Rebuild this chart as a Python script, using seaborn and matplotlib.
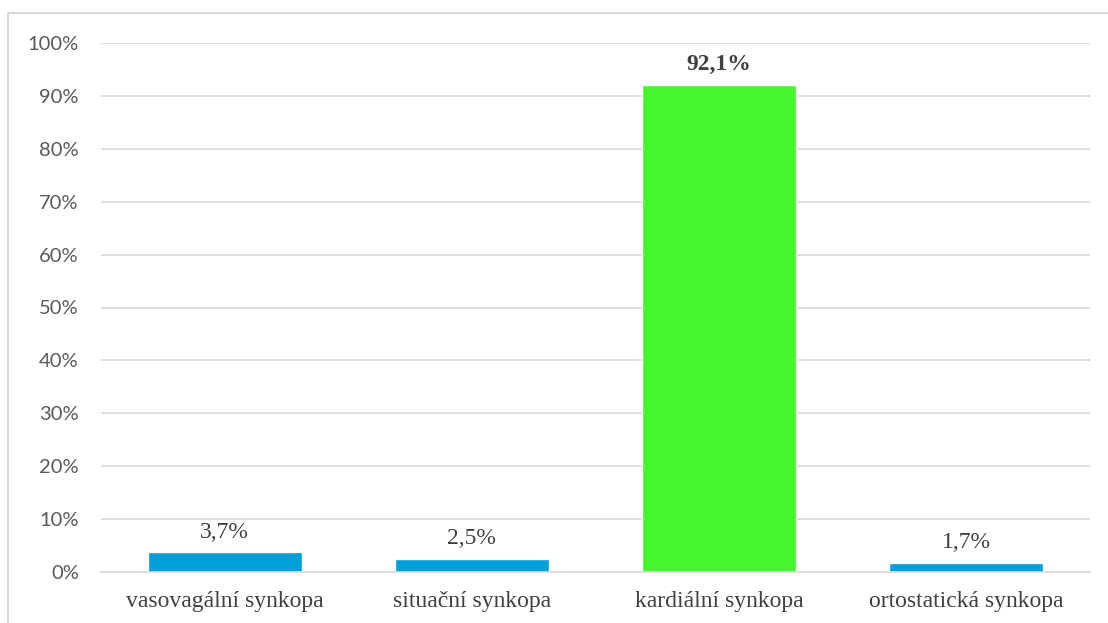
import matplotlib
matplotlib.use("Agg")
import matplotlib.pyplot as plt
import seaborn as sns
import pandas as pd
from matplotlib.patches import Rectangle

categories = ["vasovagální synkopa", "situační synkopa", "kardiální synkopa", "ortostatická synkopa"]
values = [3.7, 2.5, 92.1, 1.7]
labels = ["3,7%", "2,5%", "92,1%", "1,7%"]
colors = ["#009fda", "#009fda", "#45f62d", "#009fda"]
yticks = [0, 10, 20, 30, 40, 50, 60, 70, 80, 90, 100]

sns.set_theme(style="white")
plt.rcParams["font.family"] = ["Lato", "DejaVu Sans"]

df = pd.DataFrame({"kategorie": categories, "podil": values})

fig = plt.figure(figsize=(11.08, 6.23), dpi=100)
ax = fig.add_axes([101 / 1108, 51 / 623, 989 / 1108, 529 / 623])

sns.barplot(data=df, x="kategorie", y="podil", hue="kategorie",
            palette=colors, width=0.623, legend=False, ax=ax, saturation=1)

ax.set_ylim(0, 100)
ax.set_xlim(-0.5, 3.5)
ax.set_yticks(yticks)
ax.set_yticklabels([f"{t}%" for t in yticks], color="#595959", fontsize=14.5)
ax.tick_params(axis="y", length=0, pad=16)
ax.tick_params(axis="x", length=0, pad=14)
for lbl in ax.get_xticklabels():
    lbl.set_fontfamily("Liberation Serif")
    lbl.set_fontsize(17)
    lbl.set_color("#404040")
ax.set_xlabel("")
ax.set_ylabel("")
ax.grid(axis="y", color="#d9d9d9", linewidth=1.2)
ax.set_axisbelow(True)
for side in ["top", "right", "left"]:
    ax.spines[side].set_visible(False)
ax.spines["bottom"].set_color("#d9d9d9")
ax.spines["bottom"].set_linewidth(1.2)

for i, (v, t) in enumerate(zip(values, labels)):
    bold = v == max(values)
    ax.annotate(t, (i, v), xytext=(0, 7), textcoords="offset points",
                ha="center", va="bottom", fontfamily="Liberation Serif",
                fontsize=17, fontweight="bold" if bold else "normal",
                color="#404040")

fig.patches.append(Rectangle((8 / 1108, -0.05), 1.0, 1 - 13 / 623 + 0.05,
                             transform=fig.transFigure, fill=False,
                             edgecolor="#d9d9d9", linewidth=1.5))

fig.savefig("out.png", dpi=100)
